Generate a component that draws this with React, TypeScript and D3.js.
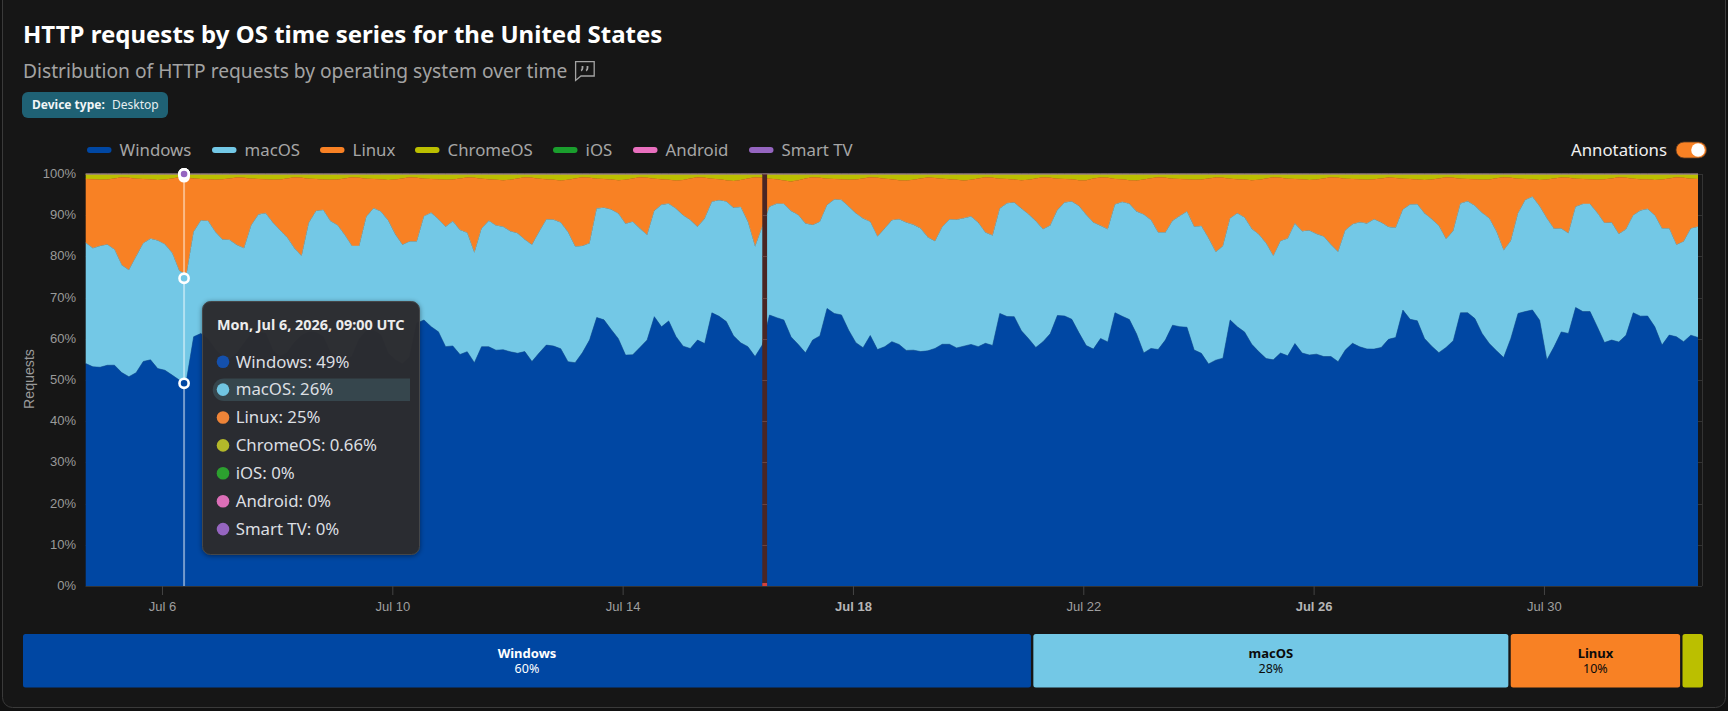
import React from "react";
import * as d3 from "d3";

const title = "HTTP requests by OS time series for the United States";
const subtitle = "Distribution of HTTP requests by operating system over time";
const seriesNames = ["Windows", "macOS", "Linux", "ChromeOS", "iOS", "Android", "Smart TV"];
const seriesColors = ["#0047a3", "#73c8e6", "#f88124", "#bbbf00", "#1a9e2d", "#e86fbe", "#9565c0"];
const legendSwatchX = [87, 212, 320, 415, 553, 633, 749];
const tooltipDotColors = ["#1450ac", "#70c5e2", "#ee8438", "#b3b82a", "#2ca02f", "#dc6fb8", "#9565c0"];

const startTime = Date.UTC(2026, 6, 4, 16);
const endTime = Date.UTC(2026, 7, 1, 16);
const stepHours = 3;

const windows = [
54.0,53.2,53.1,53.6,53.6,51.8,50.8,51.8,54.5,54.9,52.8,52.4,51.2,50.0,50.0,60.5,61.3,59.9,57.4,55.7,55.0,56.5,58.9,61.2,61.7,
61.3,57.1,55.7,56.6,59.1,60.8,61.7,61.5,60.5,56.6,55.5,54.9,55.7,59.9,62.0,62.0,60.9,56.6,54.9,53.9,55.5,63.8,64.6,63.0,61.7,
58.1,58.3,56.2,56.9,54.2,58.1,58.1,57.3,57.4,56.9,56.5,56.9,54.5,56.6,58.5,58.3,57.7,54.5,54.2,56.6,59.7,65.2,64.6,62.3,60.1,
56.1,56.1,57.9,59.7,65.4,63.0,64.4,60.7,58.3,57.7,59.7,58.9,66.4,65.6,64.3,60.9,59.1,58.1,55.7,58.5,65.8,65.2,64.8,60.7,58.8,
56.6,59.7,60.7,67.4,66.2,65.8,62.1,59.1,57.9,60.8,57.4,58.1,59.4,58.8,57.3,57.3,56.9,57.1,57.7,58.7,58.7,57.9,58.3,58.7,58.1,
58.9,58.4,66.2,65.4,65.4,62.0,60.1,57.9,59.3,61.2,65.7,65.6,64.8,61.5,58.5,57.5,60.1,59.3,66.4,65.6,64.9,61.3,56.6,57.7,57.4,
59.7,63.4,63.0,62.8,57.3,56.5,53.9,54.9,55.3,64.6,63.0,61.7,58.8,56.9,55.2,54.9,56.6,55.9,58.9,56.6,56.1,56.3,55.7,55.7,54.5,
57.3,58.9,58.1,57.6,57.5,57.9,59.9,60.4,67.0,64.8,64.4,60.1,58.3,56.7,57.9,59.6,66.4,66.4,64.9,61.3,58.9,57.1,55.5,60.1,66.2,
66.6,67.0,64.6,54.9,58.1,61.7,61.3,67.7,66.6,66.6,63.0,59.1,59.7,59.3,60.9,66.4,65.6,65.6,63.0,58.5,60.9,60.5,59.3,60.9,60.4,
];

const macos = [
29.3,28.8,29.4,29.3,28.1,26.1,25.9,28.2,28.7,29.4,31.1,30.6,29.7,26.5,25.6,25.5,27.4,28.7,28.6,28.4,29.0,26.3,23.1,26.4,28.5,
29.2,31.1,30.7,28.0,22.9,19.3,26.5,29.5,30.8,32.0,32.1,30.3,26.8,22.6,27.7,29.7,30.0,32.3,30.5,28.9,28.1,19.8,25.2,27.7,27.3,
29.1,30.3,30.2,28.9,26.7,28.7,30.6,30.3,29.9,29.3,29.1,27.2,28.3,29.4,30.5,30.7,30.7,31.5,28.2,25.9,23.5,26.5,27.2,29.1,30.4,
31.9,32.3,28.9,25.5,25.7,29.7,28.5,31.1,31.8,31.2,27.5,30.4,27.0,28.2,29.2,31.2,33.0,30.3,26.7,28.7,26.3,27.7,28.3,30.7,31.5,
31.4,27.9,27.7,25.1,27.7,27.9,30.0,31.4,31.4,27.6,27.4,28.7,29.5,30.5,31.1,30.5,29.9,27.6,26.0,28.5,30.3,31.2,31.1,31.1,30.1,
26.9,26.7,25.5,27.5,27.7,29.7,30.2,30.7,27.3,26.3,25.6,27.6,28.6,30.8,31.8,30.7,27.4,27.4,26.3,27.8,28.2,29.8,33.6,31.2,28.4,
26.1,25.4,26.9,28.1,29.9,30.9,30.5,26.3,27.2,24.7,27.6,27.8,28.1,28.5,28.0,25.2,27.2,28.5,29.2,29.6,30.2,29.2,29.1,27.2,26.7,
29.1,28.9,30.3,30.5,31.5,30.3,27.3,26.7,24.4,27.9,28.3,30.4,30.9,30.8,26.3,26.7,26.6,27.1,27.4,29.3,30.4,28.9,26.1,23.7,24.3,
27.1,27.5,27.7,34.4,28.7,25.1,24.3,24.5,26.1,26.1,27.7,29.0,28.5,26.2,25.8,23.7,25.7,26.0,27.1,28.3,25.9,22.3,24.3,25.9,26.9,
];

const linux = [
15.5,16.7,16.1,15.8,17.2,21.3,22.4,18.9,15.6,14.4,14.7,15.7,18.0,22.7,23.5,12.9,10.1,10.1,12.6,14.6,14.9,16.4,17.1,11.3,8.6,
8.2,10.4,12.3,14.3,17.2,19.0,10.7,7.8,7.4,10.0,11.1,13.7,16.7,16.6,9.2,7.1,7.8,9.8,13.3,16.1,15.6,15.5,9.1,8.2,9.7,
11.4,10.1,12.5,13.4,18.2,12.1,10.1,11.1,11.3,12.5,13.3,15.1,16.3,12.9,9.8,9.7,10.2,12.7,16.5,16.7,15.9,7.2,7.0,7.3,8.1,
10.7,10.5,12.4,13.9,7.8,6.2,5.8,6.8,8.6,10.1,12.0,9.9,5.6,5.1,5.2,6.5,6.6,10.5,16.8,11.9,6.8,5.9,5.7,7.2,8.5,
10.9,11.6,10.7,6.4,5.0,5.0,6.5,8.2,9.7,10.8,14.3,12.1,10.0,9.5,10.2,10.9,12.1,14.5,15.4,11.7,9.8,9.7,9.2,8.9,10.7,
13.4,14.0,7.2,5.9,5.6,6.9,8.4,10.3,12.6,11.6,7.6,5.7,5.4,6.3,8.4,10.7,11.7,12.5,6.2,5.5,5.7,7.5,8.5,10.1,13.4,
13.3,10.2,9.0,7.8,11.4,11.3,14.5,18.1,16.6,9.6,8.3,9.2,11.8,13.3,15.7,19.1,15.4,14.5,10.8,12.6,12.3,13.2,14.1,16.3,18.0,
12.5,11.0,10.4,10.6,9.7,10.7,12.0,12.1,7.5,6.2,6.0,8.1,9.6,11.5,15.0,12.9,6.0,5.4,6.4,8.0,9.4,12.9,17.7,15.3,8.4,
5.1,4.2,6.4,9.4,12.2,12.4,13.5,6.8,6.1,6.0,8.0,10.6,10.7,13.8,12.5,8.9,7.6,7.2,8.6,11.9,12.1,16.4,15.5,12.1,11.6,
];

const chromeos = [
1.2,1.3,1.4,1.35,1.1,0.8,0.9,1.15,1.2,1.3,1.45,1.35,1.1,0.8,0.9,1.1,1.2,1.3,1.4,1.3,1.1,0.85,0.9,1.15,1.2,
1.3,1.4,1.35,1.1,0.8,0.9,1.15,1.2,1.35,1.4,1.35,1.1,0.8,0.9,1.15,1.2,1.3,1.45,1.35,1.1,0.8,0.9,1.15,1.2,1.3,
1.4,1.35,1.1,0.85,0.9,1.15,1.25,1.4,1.5,1.4,1.1,0.8,0.9,1.15,1.25,1.4,1.6,1.4,1.1,0.8,0.9,1.15,1.2,1.35,1.5,
1.4,1.1,0.8,0.9,1.15,1.25,1.4,1.6,1.45,1.1,0.8,0.9,1.15,1.3,1.5,1.7,1.45,1.1,0.8,0.9,1.15,1.3,1.6,1.8,1.5,
1.1,0.8,0.9,1.15,1.2,1.3,1.4,1.35,1.1,0.8,0.9,1.15,1.25,1.5,1.6,1.4,1.1,0.85,0.95,1.15,1.25,1.4,1.55,1.4,1.1,
0.8,0.9,1.15,1.2,1.35,1.5,1.4,1.1,0.8,0.9,1.15,1.2,1.3,1.5,1.5,1.1,0.85,0.9,1.2,1.3,1.55,1.6,1.35,1.05,0.8,
0.9,1.15,1.2,1.3,1.4,1.35,1.1,0.85,0.9,1.15,1.25,1.35,1.5,1.4,1.1,0.8,0.9,1.15,1.2,1.3,1.45,1.35,1.1,0.8,0.9,
1.15,1.2,1.3,1.4,1.3,1.1,0.85,0.95,1.15,1.2,1.35,1.45,1.35,1.1,0.8,0.9,1.15,1.2,1.3,1.4,1.35,1.05,0.8,0.9,1.15,
1.2,1.3,1.45,1.35,1.1,0.85,0.9,1.15,1.2,1.3,1.4,1.3,1.1,0.8,0.9,1.15,1.25,1.3,1.45,1.35,1.1,0.8,0.9,1.15,1.2,
];

const xTickDates = [
  Date.UTC(2026, 6, 6), Date.UTC(2026, 6, 10), Date.UTC(2026, 6, 14), Date.UTC(2026, 6, 18),
  Date.UTC(2026, 6, 22), Date.UTC(2026, 6, 26), Date.UTC(2026, 6, 30),
];
const xTickLabels = ["Jul 6", "Jul 10", "Jul 14", "Jul 18", "Jul 22", "Jul 26", "Jul 30"];
const xTickBold = [false, false, false, true, false, true, false];

const hoverTime = Date.UTC(2026, 6, 6, 9);
const hoverShares = [49.2, 25.5, 24.64, 0.66, 0, 0, 0];
const tooltipDate = "Mon, Jul 6, 2026, 09:00 UTC";
const tooltipValues = ["49%", "26%", "25%", "0.66%", "0%", "0%", "0%"];

const annotationStart = Date.UTC(2026, 6, 16, 10);
const annotationEnd = Date.UTC(2026, 6, 16, 12);

const summaryNames = ["Windows", "macOS", "Linux", ""];
const summaryShares = [60, 28.35, 10.2, 1.36];
const summaryLabels = ["60%", "28%", "10%", ""];
const summaryText = ["#ffffff", "#0b0b0b", "#0b0b0b", ""];

const L = 85.7, R = 1698, T = 174, B = 586;
const SANS = "'Noto Sans', sans-serif";
const AXIS = "'Liberation Sans', Arial, sans-serif";

export default function App() {
  const keys = ["windows", "macos", "linux", "chromeos", "ios", "android", "smarttv"];
  const rows = windows.map((w, i) => ({
    t: startTime + i * stepHours * 3600000,
    windows: w, macos: macos[i], linux: linux[i], chromeos: chromeos[i], ios: 0, android: 0, smarttv: 0,
  }));
  const stacked = d3.stack<any>().keys(keys).offset(d3.stackOffsetExpand)(rows);
  const x = d3.scaleUtc().domain([startTime, endTime]).range([L, R]);
  const y = d3.scaleLinear().domain([0, 1]).range([B, T]);
  const area = d3.area<any>().x((d) => x(d.data.t)).y0((d) => y(d[0])).y1((d) => y(d[1]));
  const line = d3.line<any>().x((d) => x(d.data.t)).y((d) => y(d[1]));
  const yTicks = y.ticks(10);

  const hoverX = x(hoverTime);
  const hoverTops = Array.from(d3.cumsum(hoverShares), (v) => y(v / 100));

  const sumX = d3.scaleLinear().domain([0, d3.sum(summaryShares)]).range([23, 1705.4]);
  const cum = [0, ...Array.from(d3.cumsum(summaryShares))];

  return (
    <div style={{ position: "absolute", left: 0, top: 0, width: 1728, height: 711, overflow: "hidden" }}>
      <svg width={1728} height={711} viewBox="0 0 1728 711" style={{ display: "block" }}>
        <defs>
          <filter id="tipShadow" x="-10%" y="-10%" width="120%" height="120%">
            <feDropShadow dx="0" dy="1" stdDeviation="2.5" floodColor="#000" floodOpacity="0.45" />
          </filter>
        </defs>
        <rect width={1728} height={711} fill="#111111" />
        <rect x={2.5} y={-10} width={1723} height={717.5} rx={10} fill="#161616" stroke="#3a3a3a" />

        <text x={23} y={43} fontFamily={SANS} fontSize={24} fontWeight={700} fill="#ffffff">{title}</text>
        <text x={23} y={78} fontFamily={SANS} fontSize={19.2} fill="#a3a3a3">{subtitle}</text>
        <g fill="none" stroke="#a3a3a3" strokeWidth={1.3}>
          <path d="M575.6 61.6 H594.2 V76 H581 L575.6 80.4 Z" />
          <path d="M582.5 66 V68 Q582.5 70 581 70.6 M587.5 66 V68 Q587.5 70 586 70.6" strokeWidth={1.8} />
        </g>

        <rect x={22} y={92} width={146} height={26} rx={6} fill="#1f6174" />
        <text x={32} y={109} fontFamily={SANS} fontSize={12} fontWeight={700} fill="#f2f6f7">Device type:</text>
        <text x={112} y={109} fontFamily={SANS} fontSize={12} fill="#e6eef0">Desktop</text>

        {seriesNames.map((n, i) => (
          <g key={n}>
            <rect x={legendSwatchX[i]} y={147} width={24.5} height={6} rx={3} fill={seriesColors[i]} />
            <text x={legendSwatchX[i] + 32.6} y={156} fontFamily={SANS} fontSize={16.8} fill="#a6a6a6">{n}</text>
          </g>
        ))}

        <text x={1667} y={156} textAnchor="end" fontFamily={SANS} fontSize={16.8} fill="#f0f0f0">Annotations</text>
        <rect x={1676} y={142} width={30.5} height={16} rx={8} fill="#f88124" stroke="#5a3a22" strokeWidth={0.8} />
        <circle cx={1698} cy={150} r={6.8} fill="#ffffff" />

        <g stroke="#333333" strokeWidth={1}>
          {yTicks.map((t) => (
            <line key={t} x1={L} x2={1702} y1={Math.round(y(t)) + 0.5} y2={Math.round(y(t)) + 0.5} />
          ))}
          <line x1={1702.5} x2={1702.5} y1={T} y2={B} />
        </g>
        {yTicks.map((t) => (
          <text key={t} x={76} y={y(t) + 4} textAnchor="end" fontFamily={AXIS} fontSize={13} fill="#9a9a9a">
            {Math.round(t * 100)}%
          </text>
        ))}
        <text transform={`translate(34,379) rotate(-90)`} textAnchor="middle" fontFamily={AXIS} fontSize={14.2} fill="#9a9a9a">
          Requests
        </text>

        {stacked.slice(0, 4).map((s, i) => (
          <path key={keys[i]} d={area(s) as string} fill={seriesColors[i]} />
        ))}
        {stacked.map((s, i) => (
          <path key={keys[i]} d={line(s) as string} fill="none" stroke={seriesColors[i]} strokeOpacity={0.55} strokeWidth={1} />
        ))}

        <rect x={x(annotationStart)} y={T} width={x(annotationEnd) - x(annotationStart)} height={B - T} fill="#4a2624" />
        <g stroke="#6a4442" strokeWidth={1}>
          {yTicks.map((t) => (
            <line key={t} x1={x(annotationStart)} x2={x(annotationEnd)} y1={Math.round(y(t)) + 0.5} y2={Math.round(y(t)) + 0.5} />
          ))}
        </g>
        <rect x={x(annotationStart)} y={B - 3} width={x(annotationEnd) - x(annotationStart)} height={3} fill="#d2413c" />

        <line x1={L} x2={1702} y1={B + 0.5} y2={B + 0.5} stroke="#333333" />
        {xTickDates.map((d, i) => (
          <g key={d}>
            <line x1={x(d)} x2={x(d)} y1={B} y2={B + 9} stroke="#444444" />
            <text x={x(d)} y={611} textAnchor="middle" fontFamily={AXIS} fontSize={13} fontWeight={xTickBold[i] ? 700 : 400} fill={xTickBold[i] ? "#b5b5b5" : "#9f9f9f"}>
              {xTickLabels[i]}
            </text>
          </g>
        ))}

        <line x1={hoverX} x2={hoverX} y1={T} y2={B} stroke="#ffffff" strokeOpacity={0.45} strokeWidth={2} />
        {hoverTops.map((v, i) => (
          <circle key={i} cx={hoverX} cy={v} r={4.6} fill={seriesColors[i]} stroke="#ffffff" strokeWidth={2.6} />
        ))}

        <g filter="url(#tipShadow)">
          <rect x={202.5} y={301.5} width={217} height={253} rx={8} fill="#2a2d30" fillOpacity={0.96} stroke="#44474a" />
        </g>
        <text x={217} y={330} fontFamily={SANS} fontSize={14.4} fontWeight={700} fill="#ececec">{tooltipDate}</text>
        <path d="M224 378.5 H410 V401 H224 A11.2 11.2 0 0 1 224 378.5 Z" fill="#36464d" />
        {seriesNames.map((n, i) => {
          const cy = 361.7 + i * 27.9;
          return (
            <g key={n}>
              <circle cx={223} cy={cy} r={6.3} fill={tooltipDotColors[i]} />
              <text x={235.7} y={cy + 5.8} fontFamily={SANS} fontSize={16.8} fill="#dcdfe2">
                {n}: {tooltipValues[i]}
              </text>
            </g>
          );
        })}

        {summaryShares.map((v, i) => {
          const x0 = sumX(cum[i]);
          const x1 = sumX(cum[i + 1]) - 2.4;
          const idx = seriesNames.indexOf(summaryNames[i]);
          return (
            <g key={i}>
              <rect x={x0} y={634} width={x1 - x0} height={53.5} rx={2.5} fill={seriesColors[i]} />
              {idx >= 0 && (
                <g textAnchor="middle" fill={summaryText[i]} fontFamily={SANS}>
                  <text x={(x0 + x1) / 2} y={657.5} fontSize={13} fontWeight={700}>{summaryNames[i]}</text>
                  <text x={(x0 + x1) / 2} y={673} fontSize={12.5}>{summaryLabels[i]}</text>
                </g>
              )}
            </g>
          );
        })}
      </svg>
    </div>
  );
}
